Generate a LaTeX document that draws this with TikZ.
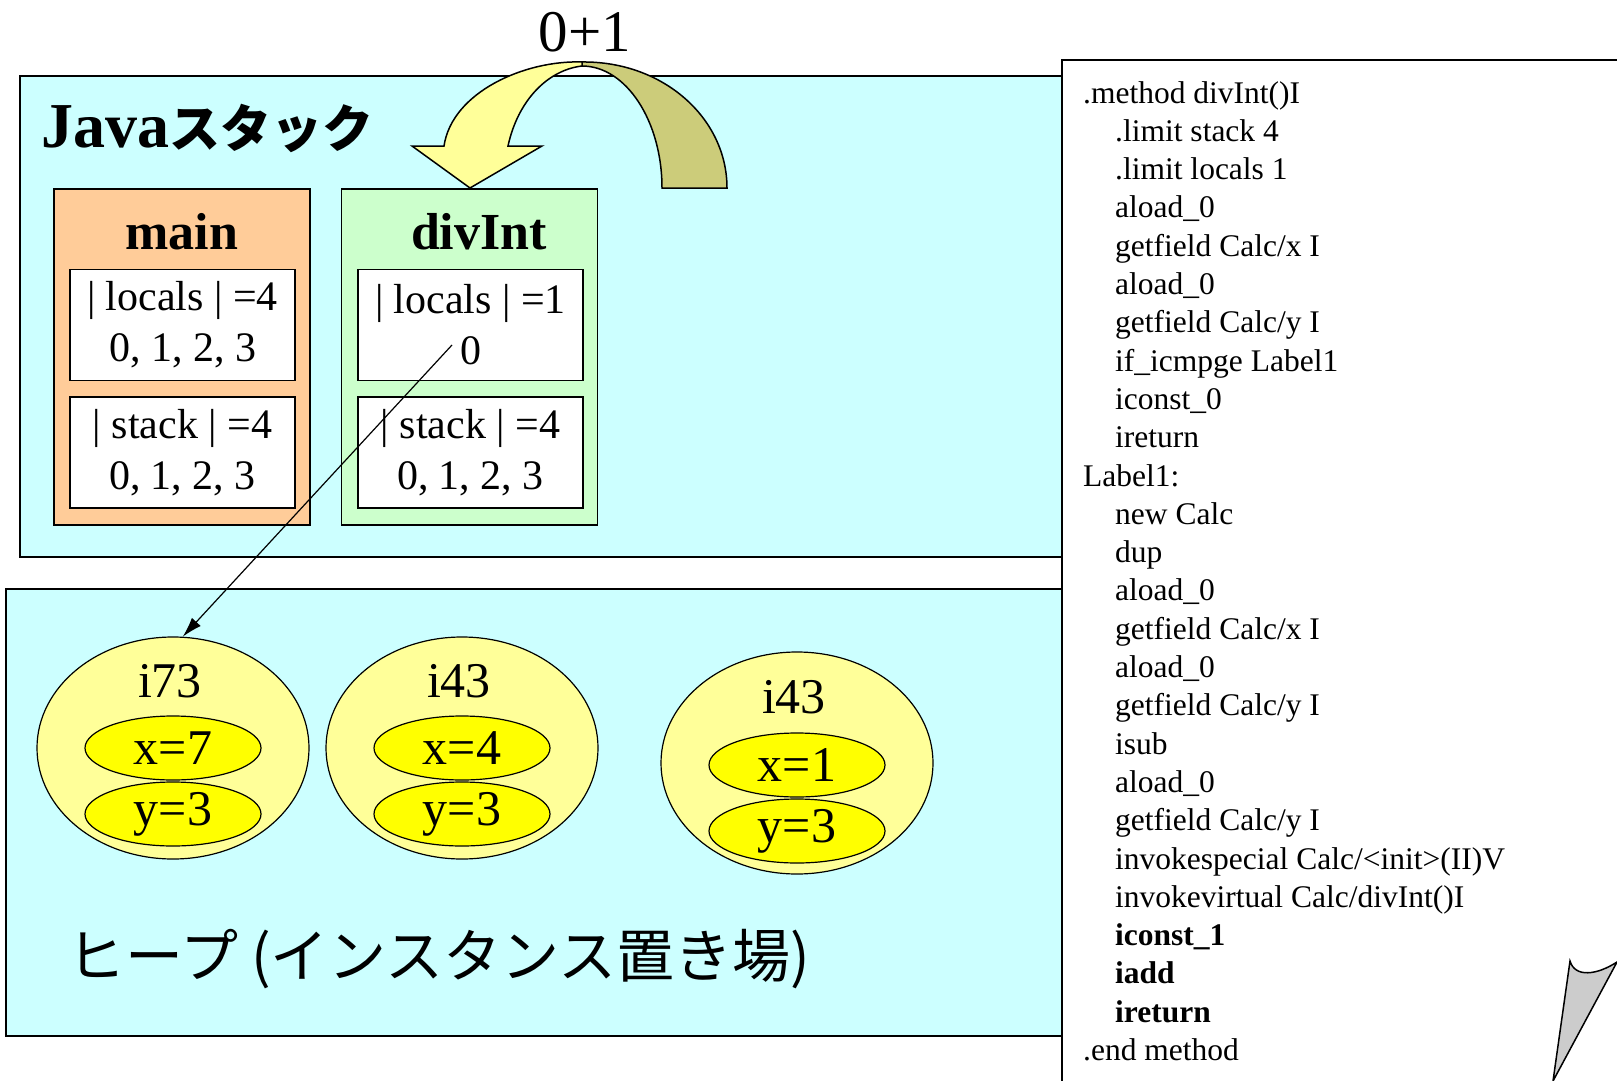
\documentclass[tikz,border=0pt]{standalone}
\usepackage{fontspec}
\setmainfont{Liberation Serif}
\newfontfamily\jpfont{Noto Sans CJK JP}
\usetikzlibrary{shapes.geometric,arrows.meta}
\definecolor{stackbg}{HTML}{CCFFFF}
\definecolor{mainbg}{HTML}{FFCC99}
\definecolor{divbg}{HTML}{CCFFCC}
\definecolor{objbg}{HTML}{FFFF99}
\definecolor{fieldbg}{HTML}{FFFF00}
\definecolor{arrowfront}{HTML}{FFFF99}
\definecolor{arrowback}{HTML}{CCCC7A}
\definecolor{curlbg}{HTML}{CCCCCC}
\newcommand\sz[2]{\fontsize{#1}{#2}\selectfont}
\newcommand\ind{\hspace*{32pt}}

\begin{document}
\begin{tikzpicture}[x=1pt, y=-1pt,
  frame/.style={draw, line width=1.5pt, minimum width=256pt, minimum height=336pt},
  framename/.style={font=\sz{52}{60}\bfseries},
  slot/.style={draw, fill=white, line width=1.5pt, minimum width=225pt, minimum height=111pt, inner sep=0pt, align=center, font=\sz{42}{51}},
  obj/.style={ellipse, draw, fill=objbg, line width=1.2pt, minimum width=272pt, minimum height=222pt, inner sep=0pt},
  objname/.style={font=\sz{50}{60}},
  field/.style={ellipse, draw, fill=fieldbg, line width=1.2pt, minimum width=176pt, minimum height=64pt, inner sep=0pt, font=\sz{50}{60}}]
\clip (0,0) rectangle (1617,1081);
\fill[white] (0,0) rectangle (1617,1081);

\draw[fill=stackbg, line width=1.5pt] (20,76) rectangle (1100,557);
\node[anchor=base west, inner sep=0pt, font=\sz{64}{70}\bfseries] (stackname) at (41,147) {Java{\jpfont\sz{51}{60}スタック}};

\node[frame, fill=mainbg] (main) at (182,357) {};
\node[framename] (mainname) at (182,232) {main};
\node[slot] (mainloc) at (182.5,325) {| locals | =4\\0, 1, 2, 3};
\node[slot] (mainstk) at (182.5,452.5) {| stack | =4\\0, 1, 2, 3};

\node[frame, fill=divbg] (divint) at (469.5,357) {};
\node[framename] (divname) at (479,232) {divInt};
\node[slot] (divloc) at (470.5,325) {| locals | =1\\0};
\node[slot] (divstk) at (470.5,452.5) {| stack | =4\\0, 1, 2, 3};

\fill[arrowback, draw=black, line width=1.5pt] (582,62) .. controls (663,61) and (727,118) .. (727,188) -- (662,188) .. controls (662,121) and (626,66) .. (582,66) -- cycle;
\fill[arrowfront, draw=black, line width=1.5pt] (582,62) .. controls (525,60) and (452,92) .. (444,146) -- (412,146) -- (470,188) -- (542,146) -- (508,146) .. controls (518,100) and (548,70) .. (582,66) -- cycle;
\node[font=\sz{59}{65}] (plusone) at (585,32) {0+1};

\draw[fill=stackbg, line width=1.5pt] (6,589) rectangle (1100,1036);
\node[anchor=west, font=\sz{58}{64}\jpfont] (heapname) at (64,959) {ヒープ (インスタンス置き場)};

\node[obj] (obja) at (173,748) {};
\node[objname] (namea) at (170,681) {i73};
\node[field] (xa) at (173,748) {x=7};
\node[field] (ya) at (173,814) {y=3};

\node[obj] (objb) at (462,748) {};
\node[objname] (nameb) at (459,681) {i43};
\node[field] (xb) at (462,748) {x=4};
\node[field] (yb) at (462,814) {y=3};

\node[obj] (objc) at (797,763) {};
\node[objname] (namec) at (794,697) {i43};
\node[field] (xc) at (797,765) {x=1};
\node[field] (yc) at (797,831) {y=3};

\coordinate (zero) at (452,345);
\draw[-{Latex[length=20pt,width=12pt]}, line width=1.2pt] (zero) -- (obja.85);

\draw[fill=white, line width=1.5pt] (1062,60) rectangle (1700,1200);
\node[anchor=north west, align=left, inner sep=0pt, font=\sz{31.5}{38.3}] (code) at (1083,81) {.method divInt()I\\
\ind .limit stack 4\\
\ind .limit locals 1\\
\ind aload\_0\\
\ind getfield Calc/x I\\
\ind aload\_0\\
\ind getfield Calc/y I\\
\ind if\_icmpge Label1\\
\ind iconst\_0\\
\ind ireturn\\
Label1:\\
\ind new Calc\\
\ind dup\\
\ind aload\_0\\
\ind getfield Calc/x I\\
\ind aload\_0\\
\ind getfield Calc/y I\\
\ind isub\\
\ind aload\_0\\
\ind getfield Calc/y I\\
\ind invokespecial Calc/<init>(II)V\\
\ind invokevirtual Calc/divInt()I\\
\ind \textbf{iconst\_1}\\
\ind \textbf{iadd}\\
\ind \textbf{ireturn}\\
.end method};

\draw[fill=curlbg, line width=1.5pt] (1570,961) .. controls (1575,978) and (1597,975) .. (1617,962) -- (1553,1081) -- cycle;
\end{tikzpicture}
\end{document}
